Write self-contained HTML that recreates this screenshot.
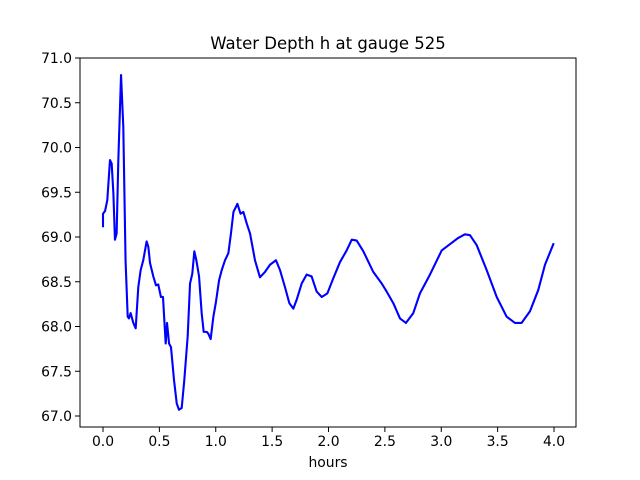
<!DOCTYPE html>
<html><head><meta charset="utf-8"><style>
body{margin:0;background:#fff}
svg{display:block;font-family:"DejaVu Sans","Liberation Sans",sans-serif}
</style></head><body>
<svg id="chart" width="640" height="480" viewBox="0 0 640 480">
<rect width="640" height="480" fill="#fff"/>
<text x="328" y="49" text-anchor="middle" font-size="16.5">Water Depth h at gauge 525</text>
<g id="axes"></g>
<text x="328" y="467" text-anchor="middle" font-size="13.9">hours</text>
</svg>
<script>
const xVals=[0,0,0.018,0.038,0.062,0.077,0.092,0.106,0.121,0.136,0.16,0.18,0.2,0.219,0.23,0.245,0.269,0.29,0.313,0.334,0.357,0.387,0.402,0.417,0.446,0.47,0.49,0.514,0.532,0.556,0.568,0.586,0.603,0.63,0.654,0.674,0.698,0.721,0.751,0.772,0.792,0.81,0.828,0.852,0.875,0.893,0.92,0.934,0.955,0.979,1.0,1.03,1.053,1.082,1.112,1.135,1.157,1.192,1.22,1.245,1.275,1.304,1.348,1.392,1.437,1.481,1.534,1.57,1.614,1.653,1.688,1.718,1.762,1.806,1.85,1.895,1.94,1.99,2.043,2.102,2.161,2.206,2.25,2.309,2.397,2.472,2.516,2.575,2.634,2.687,2.752,2.811,2.9,3.004,3.077,3.151,3.21,3.255,3.314,3.403,3.492,3.58,3.654,3.713,3.787,3.861,3.92,3.994];
const yVals=[69.12,69.26,69.29,69.41,69.86,69.82,69.49,68.97,69.04,69.86,70.81,70.23,68.74,68.11,68.09,68.15,68.04,67.98,68.44,68.63,68.74,68.95,68.89,68.71,68.56,68.46,68.47,68.33,68.33,67.81,68.04,67.81,67.77,67.40,67.14,67.07,67.09,67.40,67.89,68.48,68.59,68.84,68.74,68.56,68.15,67.94,67.94,67.92,67.86,68.11,68.26,68.52,68.63,68.74,68.82,69.04,69.28,69.37,69.26,69.28,69.15,69.04,68.74,68.55,68.61,68.69,68.74,68.63,68.44,68.26,68.20,68.30,68.48,68.58,68.56,68.39,68.33,68.37,68.54,68.72,68.85,68.97,68.96,68.84,68.61,68.48,68.39,68.26,68.09,68.04,68.15,68.37,68.58,68.85,68.92,68.99,69.03,69.02,68.91,68.63,68.33,68.11,68.04,68.04,68.17,68.41,68.69,68.92];
const xTicks=["0.0","0.5","1.0","1.5","2.0","2.5","3.0","3.5","4.0"];
const yTicks=["67.0","67.5","68.0","68.5","69.0","69.5","70.0","70.5","71.0"];
const L=80,R=576,T=58,B=427;
const sx=v=>103+v*112.75;
const sy=v=>416-(v-67)*89.5;
const NS="http://www.w3.org/2000/svg";
const g=document.getElementById('axes');
function mk(t,a){const e=document.createElementNS(NS,t);for(const k in a)e.setAttribute(k,a[k]);g.appendChild(e);return e;}
let d='';
xVals.forEach((x,i)=>{d+=(i?'L':'M')+sx(x).toFixed(2)+' '+sy(yVals[i]).toFixed(2);});
const line=mk('path',{d:d,fill:'none',stroke:'#0000ff','stroke-width':2.1,'stroke-linejoin':'round','stroke-linecap':'square'});


const frame=mk('rect',{x:L,y:T,width:R-L,height:B-T,fill:'none',stroke:'#000','stroke-width':1});


xTicks.forEach(t=>{const x=sx(parseFloat(t));
mk('line',{x1:x,x2:x,y1:B,y2:B+5,stroke:'#000','stroke-width':1});
const tx=mk('text',{x:x,y:B+19,'text-anchor':'middle','font-size':13.9});tx.textContent=t;

});
yTicks.forEach(t=>{const y=sy(parseFloat(t));
mk('line',{x1:L-5,x2:L,y1:y,y2:y,stroke:'#000','stroke-width':1});
const tx=mk('text',{x:L-8,y:y+5,'text-anchor':'end','font-size':13.9});tx.textContent=t;

});
</script>
</body></html>
